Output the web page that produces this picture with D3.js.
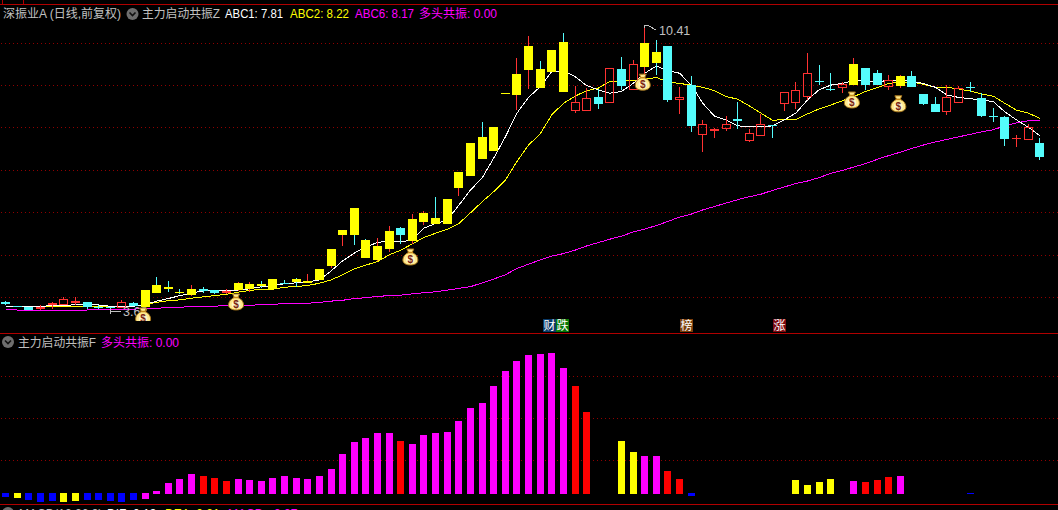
<!DOCTYPE html>
<html>
<head>
<meta charset="utf-8">
<script src="https://cdn.jsdelivr.net/npm/d3@7/dist/d3.min.js"></script>
<style>
html,body{margin:0;padding:0;background:#000;overflow:hidden}
svg{display:block}
text{font-family:"Liberation Sans","Noto Sans CJK SC",sans-serif;font-size:12px}
.cjk{font-family:"Noto Sans CJK SC",sans-serif}
</style>
</head>
<body>
<div id="chart"></div>
<script>
const opens=[3.89,3.80,3.77,3.72,3.82,3.82,3.87,3.89,3.77,3.76,3.75,3.87,3.77,4.29,4.24,4.12,4.05,4.20,4.17,4.10,4.17,4.20,4.31,4.20,4.34,4.43,4.34,4.41,4.74,5.47,6.10,5.35,4.88,5.14,5.63,5.33,5.77,5.87,5.73,6.58,6.86,7.78,7.45,8.80,8.77,9.36,9.38,9.31,10.02,8.39,8.39,8.72,8.58,9.38,8.89,9.43,9.78,9.92,8.65,9.00,7.83,7.92,7.97,8.20,7.68,7.80,8.06,8.56,8.58,8.72,9.10,8.91,8.93,9.00,9.40,9.29,8.96,8.98,9.22,8.79,8.56,8.37,8.58,8.96,8.70,8.27,8.25,7.73,7.71,7.64];
const highs=[3.92,3.80,3.77,3.82,3.89,4.01,4.01,3.89,3.82,3.77,3.94,3.89,4.17,4.48,4.38,4.20,4.29,4.24,4.17,4.20,4.36,4.36,4.38,4.43,4.41,4.45,4.55,4.67,5.14,5.59,6.10,5.37,5.40,5.68,5.66,5.96,6.03,6.36,6.32,6.95,7.64,8.13,8.01,8.81,9.64,10.16,9.57,9.83,10.23,8.98,8.93,8.91,9.40,9.66,9.59,10.41,10.06,9.92,8.96,9.21,8.18,8.00,8.27,8.60,7.97,8.32,8.06,8.84,9.07,9.76,9.47,9.29,9.07,9.64,9.40,9.36,9.24,9.24,9.33,8.79,8.72,9.00,8.98,9.07,8.81,8.46,8.27,7.83,8.08,7.75];
const lows=[3.81,3.77,3.70,3.70,3.72,3.82,3.82,3.72,3.72,3.70,3.75,3.80,3.72,4.10,4.12,4.08,4.03,4.10,4.08,4.08,4.15,4.12,4.22,4.20,4.31,4.24,4.34,4.41,4.69,5.21,5.23,4.93,4.86,5.07,5.26,5.26,5.70,5.73,5.73,6.39,6.86,7.26,7.45,8.80,8.41,8.91,8.93,9.31,8.84,8.34,8.39,8.44,8.58,8.89,8.89,9.21,9.24,8.60,8.32,7.90,7.42,7.75,7.92,7.97,7.66,7.80,7.75,8.39,8.44,8.65,9.00,8.86,8.81,9.00,8.89,9.00,8.89,8.93,8.96,8.53,8.37,8.30,8.58,8.84,8.25,8.13,7.57,7.54,7.71,7.24];
const closes=[3.84,3.77,3.70,3.77,3.87,3.96,3.91,3.77,3.75,3.75,3.89,3.80,4.17,4.10,4.20,4.10,4.20,4.15,4.10,4.15,4.34,4.31,4.27,4.43,4.33,4.36,4.38,4.67,5.14,5.59,5.47,4.93,5.21,5.56,5.47,5.85,5.99,5.73,6.32,6.95,7.64,7.26,8.01,8.81,9.26,9.92,8.93,9.83,8.84,8.60,8.70,8.56,9.40,8.98,9.50,9.99,9.52,8.65,8.72,8.04,8.08,7.97,8.08,8.15,7.87,8.08,8.04,8.84,8.89,9.29,9.07,8.89,9.03,9.50,9.00,9.00,9.12,9.22,8.96,8.56,8.37,8.72,8.93,8.93,8.27,8.25,7.73,7.75,8.01,7.31];
const yellowCandles=[12,13,14,15,16,20,21,22,23,25,26,27,28,29,30,31,32,33,35,36,37,38,39,40,41,42,43,44,45,46,47,48,55,56,73,77];
const abc1=[3.79,3.79,3.79,3.79,3.80,3.80,3.83,3.82,3.82,3.79,3.79,3.79,3.83,3.91,3.97,4.04,4.10,4.15,4.17,4.17,4.17,4.20,4.25,4.28,4.32,4.34,4.36,4.41,4.62,4.86,5.04,5.19,5.29,5.33,5.31,5.35,5.63,5.74,5.82,6.17,6.53,6.81,7.28,7.78,8.34,8.71,8.96,9.32,9.34,9.20,8.99,8.89,8.81,8.85,9.04,9.28,9.45,9.34,9.28,9.00,8.57,8.27,8.18,8.04,8.02,8.02,8.04,8.18,8.34,8.65,8.89,9.00,9.04,9.11,9.10,9.07,9.12,9.12,9.08,9.04,8.95,8.77,8.71,8.68,8.65,8.61,8.37,8.18,8.01,7.81];
const abc2=[3.79,3.79,3.79,3.79,3.79,3.79,3.79,3.79,3.79,3.79,3.79,3.79,3.83,3.88,3.92,3.94,3.98,4.01,4.04,4.07,4.12,4.16,4.19,4.19,4.24,4.25,4.28,4.33,4.41,4.53,4.67,4.76,4.84,5.00,5.11,5.26,5.41,5.51,5.60,5.74,5.99,6.25,6.49,6.76,7.20,7.59,7.85,8.30,8.57,8.74,8.87,8.93,9.09,9.09,9.11,9.14,9.18,9.07,9.04,9.00,8.95,8.87,8.73,8.67,8.51,8.34,8.17,8.19,8.19,8.32,8.44,8.53,8.63,8.73,8.85,8.94,9.04,9.07,9.07,9.02,8.95,8.95,8.91,8.86,8.79,8.74,8.57,8.41,8.34,8.22];
const abc6=[3.72,3.70,3.70,3.70,3.70,3.70,3.70,3.70,3.72,3.72,3.72,3.72,3.74,3.74,3.76,3.76,3.79,3.79,3.79,3.81,3.81,3.81,3.83,3.83,3.86,3.86,3.86,3.88,3.91,3.93,3.97,3.99,4.02,4.04,4.05,4.08,4.11,4.13,4.17,4.21,4.25,4.34,4.43,4.53,4.68,4.78,4.88,4.97,5.03,5.11,5.21,5.29,5.37,5.44,5.54,5.61,5.69,5.79,5.89,5.96,6.06,6.14,6.22,6.30,6.37,6.43,6.52,6.60,6.68,6.74,6.82,6.92,6.99,7.07,7.15,7.25,7.34,7.42,7.51,7.59,7.66,7.72,7.78,7.84,7.90,7.95,8.04,8.11,8.16,8.17];
const priceTicks=[4,5,6,7,8,9,10];
const bagIndex=[12,20,35,55,73,77];
const bagPrice=[3.56,3.89,4.95,9.07,8.65,8.56];
const strength=[-3,-4,-6,-8,-7,-8,-7,-6,-6,-7,-8,-6,-5,3,11,15,20,18,16,13,15,14,13,16,18,16,15,18,25,40,52,56,61,61,53,50,59,61,62,73,86,91,108,123,133,139,140,141,126,108,82,null,null,53,42,38,38,23,15,-2,null,null,null,null,null,null,null,null,14,9,12,15,null,13,12,14,17,18,null,null,null,null,null,-0.2,null,null,null,null,null,null];
const strengthKind="bybbbyybbbbbmmmmmrrrmmmmmmmmmmmmmmrmmmmmmmmmmmmmmrr--yymmrrb--------yyyy-mrrrm-----b------".split("");
const strengthTicks=[34,76,118];
const tags=[{i:46.8,t:"财",c:"#0a3a68"},{i:47.95,t:"跌",c:"#067806"},{i:58.6,t:"榜",c:"#7a3e0c"},{i:66.6,t:"涨",c:"#7d0a10"}];
const headerTop=[[3,"深振业A (日线,前复权)","#c0c0c0",118],[142,"主力启动共振Z","#c0c0c0",78],[225,"ABC1: 7.81","#ffffff",58],[290,"ABC2: 8.22","#ffff00",59],[355,"ABC6: 8.17","#ff00ff",59],[419,"多头共振: 0.00","#ff00ff",78]];
const headerMid=[[18,"主力启动共振F","#c0c0c0",78],[101,"多头共振: 0.00","#ff00ff",78]];
const headerBottom=[[19,"MACD(12,26,9)","#c0c0c0",0],[107,"DIF: 0.13","#ffffff",0],[165,"DEA: 0.21","#ffff00",0],[228,"MACD: -0.07","#ff00ff",0]];

const W=1058,H=510;
const UP="#ff3232",DOWN="#54fcfc",YEL="#ffff00",MAG="#ff00ff",LINE="#b00000",GRID="#900000",GRAY="#c0c0c0";
const KIND={m:"#ff00ff",r:"#ff0000",y:"#ffff00",b:"#0000ff"};
const svg=d3.select("#chart").append("svg").attr("width",W).attr("height",H).attr("viewBox",[0,0,W,H]);
svg.append("rect").attr("width",W).attr("height",H).attr("fill","#000");
svg.append("clipPath").attr("id","main").append("rect").attr("x",0).attr("y",5).attr("width",W).attr("height",316);

const x=d3.scaleLinear().domain([0,89]).range([5.7,1039.8]);
const y=d3.scaleLinear().domain([4,10]).range([297.3,42.7]);
const yB=d3.scaleLinear().domain([0,100]).range([494,394]);
const idx=d3.range(opens.length);

// frame
const frame=svg.append("g").attr("shape-rendering","crispEdges").attr("stroke",LINE);
[4.5,333.5,504.5].forEach(v=>frame.append("line").attr("x1",0).attr("x2",W).attr("y1",v).attr("y2",v));
[2.5,23.5].forEach(v=>frame.append("line").attr("x1",v).attr("x2",v).attr("y1",0).attr("y2",4));

// grids
const grid=svg.append("g").attr("shape-rendering","crispEdges").attr("stroke",GRID).attr("stroke-dasharray","1 3");
priceTicks.forEach(p=>{const v=Math.floor(y(p)+0.3)+0.5;grid.append("line").attr("x1",1).attr("x2",W).attr("y1",v).attr("y2",v);});
strengthTicks.forEach(p=>{const v=Math.round(yB(p))+0.5;grid.append("line").attr("x1",1).attr("x2",W).attr("y1",v).attr("y2",v);});

const main=svg.append("g").attr("clip-path","url(#main)");

// moving averages
const lineGen=d3.line().x((d,i)=>x(i)).y(d=>y(d));
[[abc6,MAG],[abc2,YEL],[abc1,"#ffffff"]].forEach(([s,c])=>{
  main.append("path").attr("d",lineGen(s)).attr("fill","none").attr("stroke",c).attr("stroke-width",1).attr("shape-rendering","crispEdges");
});

// candles
const yellowSet=new Set(yellowCandles);
const cg=main.append("g").attr("shape-rendering","crispEdges");
function wick(x0,a,b,col){ if(b>a) cg.append("rect").attr("x",x0+4).attr("y",a).attr("width",1).attr("height",b-a).attr("fill",col); }
idx.forEach(i=>{
  const up=closes[i]>=opens[i], col=up?UP:DOWN, x0=Math.round(x(i)-4.5);
  const t=Math.round(y(Math.max(opens[i],closes[i]))), b=Math.round(y(Math.min(opens[i],closes[i])));
  const h=Math.max(1,b-t), yh=Math.round(y(highs[i])), yl=Math.round(y(lows[i]));
  wick(x0,yh,t,col);
  wick(x0,t+h,yl,col);
  if(yellowSet.has(i)) cg.append("rect").attr("x",x0).attr("y",t).attr("width",9).attr("height",h).attr("fill",YEL);
  else if(up && h>2) cg.append("rect").attr("x",x0+0.5).attr("y",t+0.5).attr("width",8).attr("height",h-1).attr("fill","none").attr("stroke",col);
  else cg.append("rect").attr("x",x0).attr("y",t).attr("width",9).attr("height",h).attr("fill",col);
});

// high and low markers
const hx=Math.round(x(55)), hy=Math.round(y(10.41));
main.append("path").attr("d",`M${hx-0.5},${hy+3}V${hy+0.5}H${hx+3}L${hx+11},${hy+5}`).attr("stroke",GRAY).attr("fill","none").attr("shape-rendering","crispEdges");
main.append("text").attr("x",hx+14).attr("y",hy+10).attr("fill",GRAY).style("font-size","12.5px").text("10.41");
const loX=Math.round(x(9)), loY=Math.round(y(3.68));
main.append("path").attr("d",`M${loX+0.5},${loY-3}V${loY+3}M${loX},${loY+0.5}H${loX+11}`).attr("stroke",GRAY).attr("fill","none").attr("shape-rendering","crispEdges");
main.append("text").attr("x",loX+13).attr("y",loY+5).attr("fill",GRAY).style("font-size","12.5px").text("3.68");

// bags
const bags=main.append("g");
bagIndex.forEach((i,k)=>{
  const g=bags.append("g").attr("transform",`translate(${x(i)-2},${y(bagPrice[k])})`);
  g.append("path").attr("d","M-3.5,-8 L3.5,-8 L1.8,-4.5 C5.5,-3 7.5,0 7.5,3 C7.5,6.5 4,8 0,8 C-4,8 -7.5,6.5 -7.5,3 C-7.5,0 -5.5,-3 -1.8,-4.5 Z")
    .attr("fill","#ffe98c").attr("stroke","#a8761c").attr("stroke-width",1);
  g.append("rect").attr("x",-2.5).attr("y",-5.2).attr("width",5).attr("height",1.5).attr("fill","#c88a18");
  g.append("ellipse").attr("cx",0).attr("cy",2.6).attr("rx",4.4).attr("ry",3.8).attr("fill","#fff6c8");
  g.append("text").attr("x",0).attr("y",6.3).attr("text-anchor","middle").attr("fill","#7a2410").attr("font-weight","bold").style("font-size","10px").text("$");
});

// event tags
tags.forEach(d=>{
  const gx=Math.round(x(d.i)-6.5);
  svg.append("rect").attr("x",gx).attr("y",319).attr("width",13).attr("height",13).attr("fill",d.c).attr("shape-rendering","crispEdges");
  svg.append("text").attr("class","cjk").attr("x",gx+0.5).attr("y",330).attr("fill","#fff").text(d.t);
});

// lower panel
const bg=svg.append("g").attr("shape-rendering","crispEdges");
strength.forEach((v,i)=>{
  if(v===null) return;
  const x0=Math.round(x(i)-3.5);
  const top=v>0?yB(v):yB(0)-1, bot=v>0?yB(0):yB(v);
  bg.append("rect").attr("x",x0).attr("y",top).attr("width",7).attr("height",Math.max(1,bot-top)).attr("fill",KIND[strengthKind[i]]);
});

// headers
function header(items,base){
  items.forEach(([px,t,c,w])=>{
    const n=svg.append("text").attr("x",px).attr("y",base).attr("fill",c).text(t);
    if(w) n.attr("textLength",w).attr("lengthAdjust","spacingAndGlyphs");
  });
}
function toggle(cx,cy){
  svg.append("circle").attr("cx",cx).attr("cy",cy).attr("r",6).attr("fill","#6e6e6e");
  svg.append("path").attr("d",`M${cx-3},${cy-1.5}L${cx},${cy+1.5}L${cx+3},${cy-1.5}`).attr("fill","none").attr("stroke","#111").attr("stroke-width",1.6);
}
header(headerTop,18); toggle(132.5,14);
header(headerMid,346.5); toggle(8,342);
header(headerBottom,517.5); toggle(8,513);
</script>
</body>
</html>
